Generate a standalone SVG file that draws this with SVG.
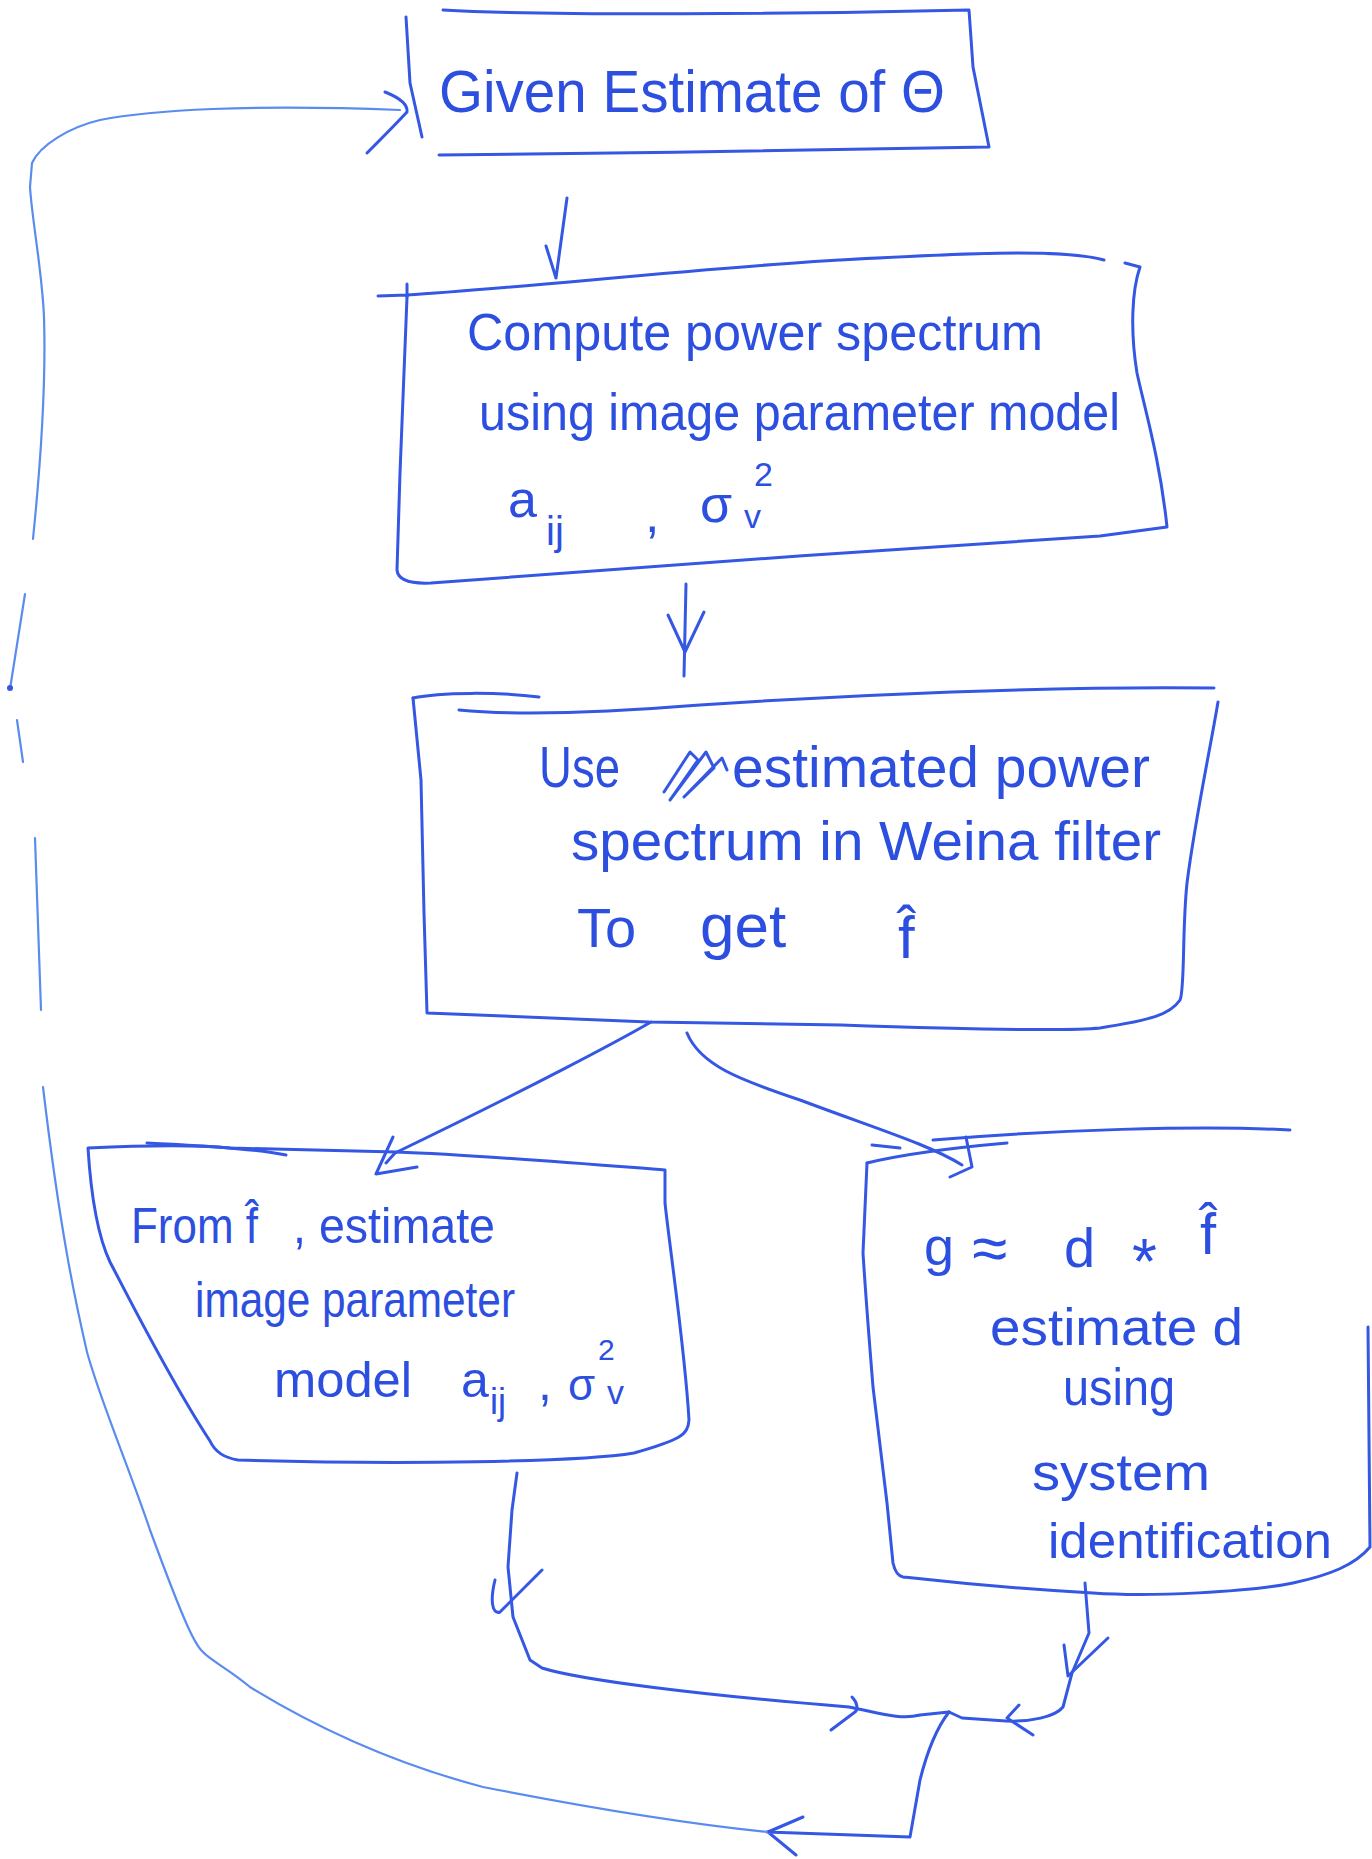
<svg xmlns="http://www.w3.org/2000/svg" width="1372" height="1859" viewBox="0 0 1372 1859">
<style>
.ln{fill:none;stroke:#3457e4;stroke-width:3;stroke-linecap:round;stroke-linejoin:round}
.lt{fill:none;stroke:#5a8cef;stroke-width:2.2;stroke-linecap:round;stroke-linejoin:round}
.tx{font-family:"Liberation Sans",Arial,sans-serif;fill:#2d4fe0}
</style>
<rect width="1372" height="1859" fill="#ffffff"/>

<g id="node1">
<path class="ln" d="M443 10 C550 16 800 14 969 10 L973 67 L989 147 C900 150 600 153 439 155"/>
<path class="ln" d="M406 17 L410 83 L422 137"/>
<text class="tx" x="439" y="112" font-size="60" textLength="506" lengthAdjust="spacingAndGlyphs">Given Estimate of Θ</text>
</g>

<g id="node2">
<path class="ln" d="M378 296 L407 295 M407 284 L407 297"/>
<path class="ln" d="M407 295 C500 290 700 268 839 260 C950 254 1060 248 1104 260"/>
<path class="ln" d="M1125 263 L1140 267 C1132 290 1130 330 1137 373 C1145 410 1160 460 1167 527 L1100 536 C900 548 600 570 431 583 C410 584 398 580 397 570 L400 473 L407 297"/>
<text class="tx" x="467" y="350" font-size="52" textLength="576" lengthAdjust="spacingAndGlyphs">Compute power spectrum</text>
<text class="tx" x="479" y="430" font-size="52" textLength="641" lengthAdjust="spacingAndGlyphs">using image parameter model</text>
<text class="tx" x="508" y="517" font-size="52">a</text>
<text class="tx" x="546" y="545" font-size="40">ij</text>
<text class="tx" x="645" y="532" font-size="52">,</text>
<text class="tx" x="700" y="522" font-size="52">σ</text>
<text class="tx" x="744" y="528" font-size="34">v</text>
<text class="tx" x="754" y="486" font-size="34">2</text>
</g>

<g id="node3">
<path class="ln" d="M413 698 C440 692 500 692 539 697"/>
<path class="ln" d="M459 710 C520 716 600 713 700 705 C850 695 1050 686 1214 688"/>
<path class="ln" d="M1218 702 C1210 750 1195 820 1187 883 C1182 930 1185 990 1180 1000 C1170 1015 1150 1020 1100 1028 C1060 1032 900 1027 841 1025 L649 1022 L427 1013 L424 913 L421 780 L413 698"/>
<text class="tx" x="539" y="787" font-size="58" textLength="81" lengthAdjust="spacingAndGlyphs">Use</text>
<path class="ln" d="M664 792 L690 752 L698 760 L670 800 L706 752 L714 768 L684 797 L722 758 L727 770"/>
<text class="tx" x="732" y="787" font-size="58" textLength="418" lengthAdjust="spacingAndGlyphs">estimated power</text>
<text class="tx" x="571" y="860" font-size="56" textLength="590" lengthAdjust="spacingAndGlyphs">spectrum in Weina filter</text>
<text class="tx" x="577" y="947" font-size="56">To</text>
<text class="tx" x="700" y="947" font-size="62">get</text>
<text class="tx" x="898" y="958" font-size="60">f̂</text>
</g>

<g id="node4">
<path class="ln" d="M88 1148 C150 1145 200 1145 230 1148 L396 1152 C480 1155 600 1165 665 1170 L665 1203 C670 1250 685 1350 689 1420 C688 1435 680 1440 634 1453 C580 1462 400 1465 238 1460 C225 1458 215 1452 210 1441 C170 1380 130 1300 110 1262 C95 1230 90 1180 88 1148 Z"/>
<path class="ln" d="M147 1143 C200 1146 250 1148 286 1155"/>
<text class="tx" x="131" y="1243" font-size="50" textLength="127" lengthAdjust="spacingAndGlyphs">From f̂</text>
<text class="tx" x="293" y="1243" font-size="50" textLength="202" lengthAdjust="spacingAndGlyphs">, estimate</text>
<text class="tx" x="195" y="1317" font-size="50" textLength="320" lengthAdjust="spacingAndGlyphs">image parameter</text>
<text class="tx" x="274" y="1397" font-size="50" textLength="138" lengthAdjust="spacingAndGlyphs">model</text>
<text class="tx" x="461" y="1397" font-size="50">a</text>
<text class="tx" x="490" y="1414" font-size="36">ij</text>
<text class="tx" x="538" y="1400" font-size="50">,</text>
<text class="tx" x="568" y="1400" font-size="44">σ</text>
<text class="tx" x="598" y="1360" font-size="30">2</text>
<text class="tx" x="607" y="1404" font-size="34">v</text>
</g>

<g id="node5">
<path class="ln" d="M867 1163 C900 1155 950 1148 1007 1143"/>
<path class="ln" d="M933 1140 C1050 1130 1200 1125 1290 1130"/>
<path class="ln" d="M872 1145 L900 1148"/>
<path class="ln" d="M867 1163 L863 1253 C866 1300 870 1350 873 1387 L887 1503 L893 1563 C895 1572 898 1576 903 1577 C930 1580 1000 1588 1093 1593 C1150 1597 1250 1592 1293 1583 C1330 1575 1355 1565 1370 1547 L1368 1327"/>
<text class="tx" x="924" y="1265" font-size="54">g</text>
<text class="tx" x="972" y="1270" font-size="64">≈</text>
<text class="tx" x="1064" y="1267" font-size="56">d</text>
<text class="tx" x="1132" y="1284" font-size="64">*</text>
<text class="tx" x="1200" y="1254" font-size="58">f̂</text>
<text class="tx" x="990" y="1345" font-size="52" textLength="253" lengthAdjust="spacingAndGlyphs">estimate d</text>
<text class="tx" x="1063" y="1405" font-size="52" textLength="112" lengthAdjust="spacingAndGlyphs">using</text>
<text class="tx" x="1032" y="1490" font-size="52" textLength="178" lengthAdjust="spacingAndGlyphs">system</text>
<text class="tx" x="1048" y="1558" font-size="50" textLength="284" lengthAdjust="spacingAndGlyphs">identification</text>
</g>

<g id="connectors">
<path class="ln" d="M567 198 L556 278 M546 246 L556 278"/>
<path class="ln" d="M686 584 L684 676 M668 615 L685 652 L704 612"/>
<path class="ln" d="M651 1022 C620 1040 530 1088 395 1153 L386 1163 M393 1137 L376 1174 L417 1167"/>
<path class="ln" d="M687 1033 C700 1065 740 1080 800 1100 C880 1130 930 1145 962 1165 M966 1137 L972 1167 L950 1177"/>
<path class="ln" d="M517 1473 L512 1510 L508 1567 L513 1617 L530 1660 L542 1668 C580 1680 700 1695 849 1707 C880 1713 900 1720 920 1715 L949 1712"/>
<path class="ln" d="M495 1580 C490 1600 492 1615 500 1612 L542 1570"/>
<path class="ln" d="M852 1697 C858 1703 858 1710 855 1712 L831 1730"/>
<path class="ln" d="M1085 1583 L1089 1633 L1072 1673 L1063 1707 C1055 1717 1030 1722 1006 1721 L962 1718 L949 1712"/>
<path class="ln" d="M1064 1645 L1068 1676 L1108 1638"/>
<path class="ln" d="M1019 1705 L1007 1718 L1033 1735"/>
<path class="ln" d="M949 1712 C935 1730 925 1760 920 1780 L910 1837 L767 1832 M803 1817 L768 1832 L796 1855"/>
<path class="lt" d="M767 1832 C700 1825 600 1810 483 1787 C400 1765 320 1730 250 1687 C230 1670 210 1660 203 1652 C195 1645 185 1625 150 1530 C130 1470 100 1400 87 1352 C75 1300 60 1230 43 1087"/>
<path class="lt" d="M41 1010 L35 838 M23 762 L17 720 M10 689 L25 594"/>
<circle cx="10" cy="688" r="3" fill="#3457e4"/>
<path class="lt" d="M33 539 C42 450 46 380 44 317 C42 270 32 220 30 187 L32 163 C40 145 70 127 100 120 C150 110 250 104 400 110"/>
<path class="ln" d="M385 92 C400 98 408 105 407 112 C395 125 380 140 367 153"/>
</g>
</svg>
